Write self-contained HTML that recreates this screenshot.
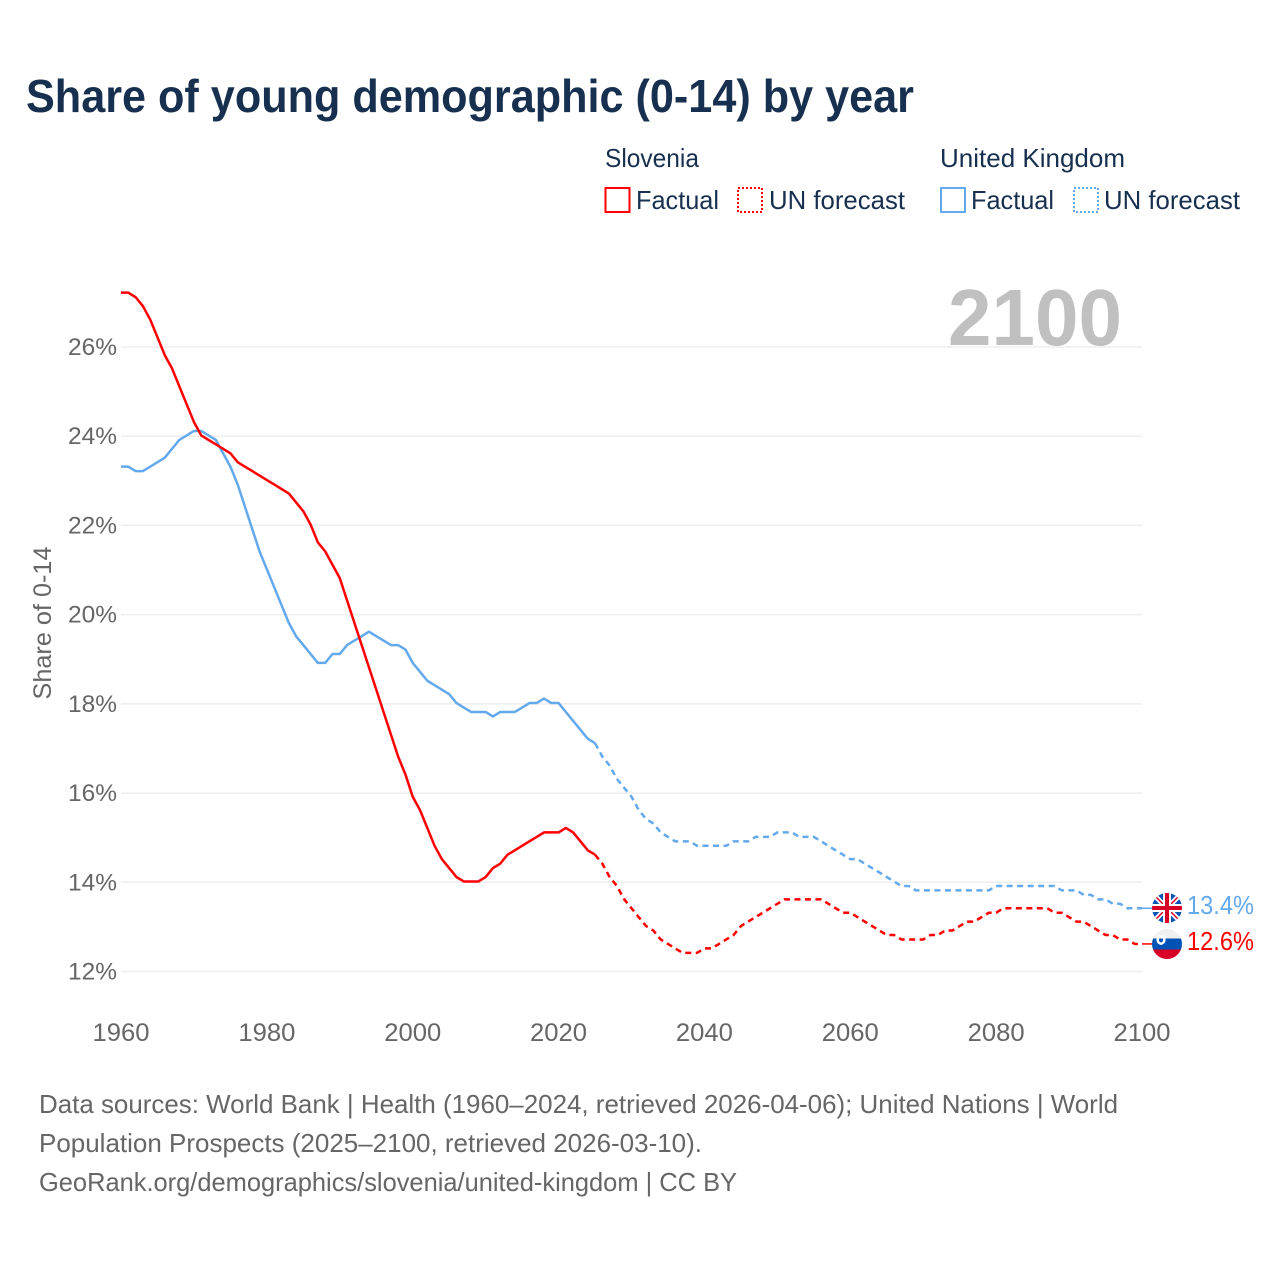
<!DOCTYPE html>
<html lang="en">
<head>
<meta charset="utf-8">
<title>Share of young demographic (0-14) by year</title>
<style>
html,body{margin:0;padding:0;background:#fff;}
svg{display:block;}
text{font-family:"Liberation Sans",sans-serif;}
</style>
</head>
<body>
<svg id="chart" xmlns="http://www.w3.org/2000/svg" width="1280" height="1280" viewBox="0 0 1280 1280">
  <defs>
    <clipPath id="flag-clip-uk"><circle cx="1167" cy="908" r="15"/></clipPath>
    <clipPath id="flag-clip-si"><circle cx="1167" cy="944" r="15"/></clipPath>
  </defs>
  <rect width="1280" height="1280" fill="#fff"/>

  <text x="26" y="112" font-size="46" font-weight="700" fill="#18304f" textLength="888" lengthAdjust="spacingAndGlyphs">Share of young demographic (0-14) by year</text>

  <g font-size="26" fill="#18304f">
    <text x="605" y="167" textLength="94" lengthAdjust="spacingAndGlyphs">Slovenia</text>
    <text x="940" y="167" textLength="185" lengthAdjust="spacingAndGlyphs">United Kingdom</text>
    <rect x="605.5" y="188" width="24" height="24" fill="none" stroke="#ff0000" stroke-width="2"/>
    <text x="636" y="209" textLength="83" lengthAdjust="spacingAndGlyphs">Factual</text>
    <rect x="738" y="188" width="24" height="24" fill="none" stroke="#ff0000" stroke-width="2" stroke-dasharray="2 2"/>
    <text x="769" y="209" textLength="136" lengthAdjust="spacingAndGlyphs">UN forecast</text>
    <rect x="941" y="188" width="24" height="24" fill="none" stroke="#63a9ec" stroke-width="2"/>
    <text x="971" y="209" textLength="83" lengthAdjust="spacingAndGlyphs">Factual</text>
    <rect x="1074" y="188" width="24" height="24" fill="none" stroke="#63a9ec" stroke-width="2" stroke-dasharray="2 2"/>
    <text x="1104" y="209" textLength="136" lengthAdjust="spacingAndGlyphs">UN forecast</text>
  </g>

  <g id="grid"></g>
  <g id="yticks"></g>
  <g id="xticks"></g>

  <text transform="translate(51,623) rotate(-90)" text-anchor="middle" font-size="25" fill="#666" textLength="153" lengthAdjust="spacingAndGlyphs">Share of 0-14</text>

  <text x="948" y="345" font-size="80" font-weight="700" fill="#c0c0c0" textLength="174" lengthAdjust="spacingAndGlyphs">2100</text>

  <g id="series" transform="translate(0,-0.8)"></g>

  <g clip-path="url(#flag-clip-uk)">
    <rect x="1152" y="893" width="30" height="30" fill="#0052b4"/>
    <path d="M1152 893L1182 923M1182 893L1152 923" stroke="#fff" stroke-width="5"/>
    <path d="M1152 893L1182 923M1182 893L1152 923" stroke="#d80027" stroke-width="1.500"/>
    <rect x="1163" y="893" width="8" height="30" fill="#fff"/>
    <rect x="1152" y="904" width="30" height="8" fill="#fff"/>
    <rect x="1165" y="893" width="4" height="30" fill="#d80027"/>
    <rect x="1152" y="906" width="30" height="4" fill="#d80027"/>
  </g>
  <g clip-path="url(#flag-clip-si)">
    <rect x="1152" y="929" width="30" height="10" fill="#f0f0f0"/>
    <rect x="1152" y="938.500" width="30" height="11" fill="#0052b4"/>
    <rect x="1152" y="949.500" width="30" height="10" fill="#d80027"/>
    <path d="M1156.500 935.500h9v5c0 2.500-2.500 4-4.500 4.500c-2-.5-4.500-2-4.500-4.500z" fill="#fff"/>
    <path d="M1159 938.500h4v2c0 1-1 1.500-2 2c-1-.5-2-1-2-2z" fill="#0052b4"/>
  </g>

  <text x="1187" y="914" font-size="26" fill="#63a9ec" textLength="67" lengthAdjust="spacingAndGlyphs">13.4%</text>
  <text x="1187" y="950" font-size="26" fill="#ff0000" textLength="67" lengthAdjust="spacingAndGlyphs">12.6%</text>

  <g font-size="26" fill="#666">
    <text x="39" y="1113" textLength="1079" lengthAdjust="spacingAndGlyphs">Data sources: World Bank | Health (1960–2024, retrieved 2026-04-06); United Nations | World</text>
    <text x="39" y="1152" textLength="663" lengthAdjust="spacingAndGlyphs">Population Prospects (2025–2100, retrieved 2026-03-10).</text>
    <text x="39" y="1191" textLength="698" lengthAdjust="spacingAndGlyphs">GeoRank.org/demographics/slovenia/united-kingdom | CC BY</text>
  </g>
</svg>
<script>
const yTickValues = [12, 14, 16, 18, 20, 22, 24, 26];
const xTickYears = [1960, 1980, 2000, 2020, 2040, 2060, 2080, 2100];
const firstYear = 1960;
const lastFactualYear = 2025;

const sloveniaValues = [
  27.2,27.2,27.1,26.9,26.6,26.2,25.8,25.5,25.1,24.7,
  24.3,24.0,23.9,23.8,23.7,23.6,23.4,23.3,23.2,23.1,
  23.0,22.9,22.8,22.7,22.5,22.3,22.0,21.6,21.4,21.1,
  20.8,20.3,19.8,19.3,18.8,18.3,17.8,17.3,16.8,16.4,
  15.9,15.6,15.2,14.8,14.5,14.3,14.1,14.0,14.0,14.0,
  14.1,14.3,14.4,14.6,14.7,14.8,14.9,15.0,15.1,15.1,
  15.1,15.2,15.1,14.9,14.7,14.6,14.4,14.1,13.9,13.6,
  13.4,13.2,13.0,12.9,12.7,12.6,12.5,12.4,12.4,12.4,
  12.5,12.5,12.6,12.7,12.8,13.0,13.1,13.2,13.3,13.4,
  13.5,13.6,13.6,13.6,13.6,13.6,13.6,13.5,13.4,13.3,
  13.3,13.2,13.1,13.0,12.9,12.8,12.8,12.7,12.7,12.7,
  12.7,12.8,12.8,12.9,12.9,13.0,13.1,13.1,13.2,13.3,
  13.3,13.4,13.4,13.4,13.4,13.4,13.4,13.4,13.3,13.3,
  13.2,13.1,13.1,13.0,12.9,12.8,12.8,12.7,12.7,12.6,
  12.6
];

const ukValues = [
  23.3,23.3,23.2,23.2,23.3,23.4,23.5,23.7,23.9,24.0,
  24.1,24.1,24.0,23.9,23.6,23.3,22.9,22.4,21.9,21.4,
  21.0,20.6,20.2,19.8,19.5,19.3,19.1,18.9,18.9,19.1,
  19.1,19.3,19.4,19.5,19.6,19.5,19.4,19.3,19.3,19.2,
  18.9,18.7,18.5,18.4,18.3,18.2,18.0,17.9,17.8,17.8,
  17.8,17.7,17.8,17.8,17.8,17.9,18.0,18.0,18.1,18.0,
  18.0,17.8,17.6,17.4,17.2,17.1,16.8,16.6,16.3,16.1,
  15.9,15.6,15.4,15.3,15.1,15.0,14.9,14.9,14.9,14.8,
  14.8,14.8,14.8,14.8,14.9,14.9,14.9,15.0,15.0,15.0,
  15.1,15.1,15.1,15.0,15.0,15.0,14.9,14.8,14.7,14.6,
  14.5,14.5,14.4,14.3,14.2,14.1,14.0,13.9,13.9,13.8,
  13.8,13.8,13.8,13.8,13.8,13.8,13.8,13.8,13.8,13.8,
  13.9,13.9,13.9,13.9,13.9,13.9,13.9,13.9,13.9,13.8,
  13.8,13.8,13.7,13.7,13.6,13.6,13.5,13.5,13.4,13.4,
  13.4
];

const NS = 'http://www.w3.org/2000/svg';
function xScale(year) { return 121 + (year - 1960) * (1142 - 121) / 140; }
function yScale(v) { return 971.5 - (v - 12) * (971.5 - 347) / 14; }

const gridLayer = document.getElementById('grid');
const yTickLayer = document.getElementById('yticks');
const xTickLayer = document.getElementById('xticks');
const seriesLayer = document.getElementById('series');

yTickValues.forEach(function (v) {
  const line = document.createElementNS(NS, 'line');
  line.setAttribute('x1', xScale(1960));
  line.setAttribute('x2', xScale(2100));
  line.setAttribute('y1', yScale(v));
  line.setAttribute('y2', yScale(v));
  line.setAttribute('stroke', '#eeeeee');
  line.setAttribute('stroke-width', '1.500');
  
  
  gridLayer.appendChild(line);

  const label = document.createElementNS(NS, 'text');
  label.setAttribute('x', 117);
  label.setAttribute('y', yScale(v) + 8);
  label.setAttribute('text-anchor', 'end');
  label.setAttribute('font-size', '24');
  label.setAttribute('fill', '#666');
  label.setAttribute('textLength', '49');
  label.setAttribute('lengthAdjust', 'spacingAndGlyphs');
  label.textContent = v + '%';
  
  
  yTickLayer.appendChild(label);
});

xTickYears.forEach(function (year) {
  const label = document.createElementNS(NS, 'text');
  label.setAttribute('x', xScale(year));
  label.setAttribute('y', 1041);
  label.setAttribute('text-anchor', 'middle');
  label.setAttribute('font-size', '25');
  label.setAttribute('fill', '#666');
  label.setAttribute('textLength', '57');
  label.setAttribute('lengthAdjust', 'spacingAndGlyphs');
  label.textContent = year;
  
  
  xTickLayer.appendChild(label);
});

function pathFor(values, fromYear, toYear) {
  let d = '';
  values.forEach(function (v, i) {
    const year = firstYear + i;
    if (year < fromYear || year > toYear) return;
    d += (d ? 'L' : 'M') + xScale(year).toFixed(2) + ' ' + yScale(v).toFixed(2);
  });
  return d;
}

function makeLine(values, fromYear, toYear, color, dash) {
  const p = document.createElementNS(NS, 'path');
  p.setAttribute('d', pathFor(values, fromYear, toYear));
  p.setAttribute('fill', 'none');
  p.setAttribute('stroke', color);
  p.setAttribute('stroke-width', '2.500');
  p.setAttribute('stroke-linejoin', 'round');
  if (dash) p.setAttribute('stroke-dasharray', dash);
  seriesLayer.appendChild(p);
  return p;
}

const ukFactual = makeLine(ukValues, firstYear, lastFactualYear, '#63a9ec');


const ukForecast = makeLine(ukValues, lastFactualYear, 2100, '#63a9ec', '6 4.500');


const siFactual = makeLine(sloveniaValues, firstYear, lastFactualYear, '#ff0000');


const siForecast = makeLine(sloveniaValues, lastFactualYear, 2100, '#ff0000', '6 4.500');



function makeLeader(values, color) {
  const l = document.createElementNS(NS, 'line');
  const last = values[values.length - 1];
  l.setAttribute('x1', xScale(2100));
  l.setAttribute('x2', 1152);
  l.setAttribute('y1', yScale(last));
  l.setAttribute('y2', yScale(last));
  l.setAttribute('stroke', color);
  l.setAttribute('stroke-width', '1.500');
  seriesLayer.appendChild(l);
  return l;
}
const ukLeader = makeLeader(ukValues, '#63a9ec');


const siLeader = makeLeader(sloveniaValues, '#ff0000');


</script>
</body>
</html>
